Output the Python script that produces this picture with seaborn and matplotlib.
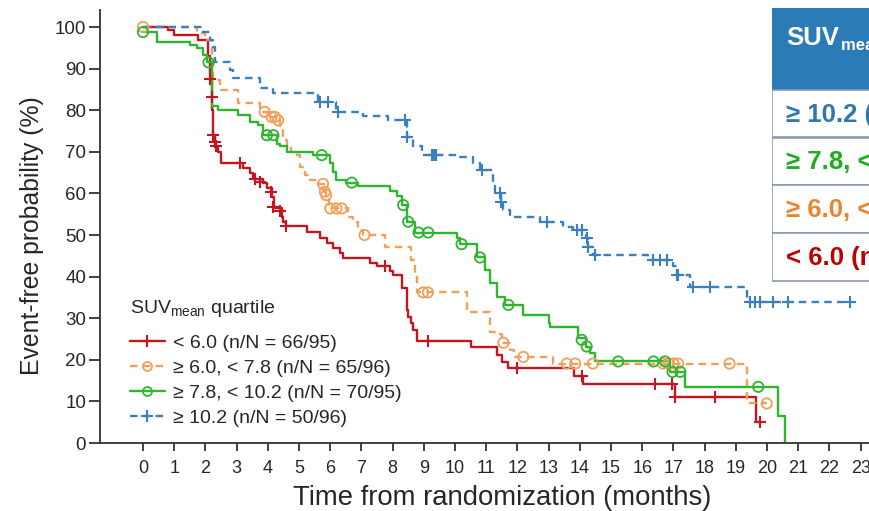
import matplotlib
matplotlib.use("Agg")
import matplotlib.pyplot as plt
import seaborn as sns
import pandas as pd
from matplotlib.lines import Line2D
from matplotlib.patches import Rectangle

# ---- data (months, event-free %) ----
red_t = [0, 0.8, 1.0, 1.75, 2.08, 2.15, 2.2, 2.22, 2.25, 2.3, 2.35, 2.4, 2.5, 3.2, 3.43, 3.53,
         3.85, 3.96, 4.12, 4.2, 4.44, 4.49, 4.58, 5.25, 5.67, 5.89, 6.1, 6.3, 6.4, 7.28, 7.49,
         7.92, 8.0, 8.29, 8.45, 8.5, 8.6, 8.66, 8.77, 10.5, 11.33, 11.5, 11.7, 13.8, 14.1,
         17.05, 19.65, 19.8]
red_s = [100, 99.3, 98.2, 96.8, 93, 88, 84, 80, 74, 72.4, 71.2, 70, 67.2, 66, 64.9, 63.4,
         62.5, 61.3, 59.2, 56.5, 54.4, 53.2, 52.2, 50.8, 49.4, 48.2, 46.9, 45.6, 44.4, 43.3, 42.5,
         41.4, 40.4, 37.3, 32, 30.4, 28.8, 27.2, 24.5, 23.1, 21.2, 19.5, 18.0, 16.1, 14.2,
         11.1, 5.1, 5.1]
red_ct = [2.15, 2.2, 2.25, 2.3, 2.35, 3.1, 3.6, 3.76, 4.09, 4.17, 4.39, 4.58, 7.76, 9.14,
          12.0, 14.06, 16.4, 16.95, 17.05, 18.33, 19.78]
red_cs = [87.4, 83.1, 74, 72.4, 71.4, 67.2, 63.4, 62.7, 60.4, 56.8, 55.7, 52.2, 42.5, 24.5,
          18.0, 16.1, 14.2, 14.2, 11.1, 11.1, 5.1]

orange_t = [0, 1.72, 1.99, 2.2, 2.25, 2.47, 3.05, 3.75, 4.05, 4.3, 4.39, 4.5, 4.6, 4.75, 4.93,
            5.03, 5.2, 5.35, 5.6, 5.8, 5.85, 5.95, 6.57, 6.73, 6.9, 7.05, 7.76, 8.6, 8.72, 8.77,
            10.37, 11.12, 11.33, 11.5, 11.76, 11.9, 13.15, 19.35, 20.0]
orange_s = [100, 98.5, 96.9, 92, 87.3, 84.9, 81.7, 79.6, 78.4, 77.6, 75.2, 72.8, 71.3, 70, 69.2,
            66.4, 64.5, 63.2, 62.3, 60.4, 59.6, 56.4, 54.4, 53.2, 51.2, 50, 47.2, 44, 40.9, 36.2,
            31.4, 26.8, 26.3, 24.1, 22.4, 20.7, 19.1, 9.5, 9.5]
orange_ct = [0, 3.9, 4.12, 4.23, 4.33, 5.77, 5.83, 5.87, 6.0, 6.2, 6.37, 7.1, 8.98, 9.13, 11.55,
             12.19, 13.58, 13.85, 14.42, 16.67, 16.85, 17.0, 17.15, 18.8, 19.99]
orange_cs = [100, 79.6, 78.4, 78.4, 77.6, 62.3, 60.4, 59.6, 56.4, 56.4, 56.4, 50, 36.2, 36.2, 24.1,
             20.7, 19.1, 19.1, 19.1, 19.1, 19.1, 19.1, 19.1, 19.1, 9.5]

green_t = [0, 0.44, 1.5, 1.72, 1.93, 2.05, 2.2, 2.41, 3.05, 3.43, 3.7, 3.85, 4.28, 4.39, 4.6,
           5.45, 6.0, 6.1, 6.2, 6.5, 6.9, 7.92, 8.13, 8.3, 8.45, 8.72, 10.05, 10.15, 10.7, 10.96,
           11.12, 11.33, 11.6, 12.19, 13.0, 13.04, 13.95, 14.2, 14.33, 14.49, 16.89, 17.37, 20.36,
           20.58]
green_s = [98.8, 96.5, 95.7, 94.9, 93.3, 91.7, 80.9, 80, 78.8, 77.2, 76.4, 74, 72, 71.3, 70,
           69.2, 67.2, 65.2, 63.2, 62.6, 61.7, 60.5, 59.3, 57.2, 53.2, 50.6, 49.2, 47.8, 44.6, 41.6,
           38.4, 35.2, 33.2, 30.8, 28.8, 28, 25.2, 23.2, 21.6, 19.6, 17.1, 13.5, 6.5,
           0]
green_ct = [0, 2.1, 3.97, 4.18, 5.73, 6.69, 8.34, 8.5, 8.83, 9.14, 10.21, 10.8, 11.71, 14.06,
            14.22, 15.23, 16.36, 16.73, 16.97, 17.22, 19.72]
green_cs = [98.8, 91.5, 74, 74, 69.2, 62.6, 57.2, 53.2, 50.6, 50.6, 47.8, 44.6, 33.2, 24.8,
            23.2, 19.6, 19.6, 19.6, 17.1, 17.1, 13.5]

blue_t = [0, 1.93, 2.15, 2.25, 2.3, 2.79, 2.89, 3.75, 4.18, 5.62, 6.2, 7.06, 7.86, 8.45, 8.66,
          8.93, 10.05, 10.58, 10.8, 11.23, 11.28, 11.46, 11.55, 11.76, 12.72, 13.47, 13.79, 14.2,
          14.27, 14.43, 16.2, 17.0, 17.1, 17.53, 19.35, 22.66]
blue_s = [100, 98.9, 96.9, 95.3, 91.7, 89.7, 87.7, 85.3, 84.1, 82.1, 79.6, 78.5, 77.6, 73.6, 71.3,
          69.2, 68.8, 67.2, 65.6, 61.7, 60.1, 58, 56, 54.4, 53.2, 52, 51.2, 49.2,
          47.2, 45.2, 44.1, 42.5, 40.4, 37.6, 34.0, 34.0]
blue_ct = [5.67, 5.94, 6.25, 8.4, 8.47, 9.25, 9.32, 9.4, 10.85, 11.44, 11.47, 12.94, 13.9, 14.06,
           14.22, 14.27, 14.5, 16.36, 16.57, 16.78, 17.1, 17.15, 17.64, 18.17, 19.45, 19.62, 19.78,
           20.2, 20.68, 22.66]
blue_cs = [82.1, 82.1, 79.6, 77.6, 73.6, 69.2, 69.2, 69.2, 65.6, 60.1, 58, 53.2, 51.2, 51.2,
           49.2, 47.2, 45.2, 44.1, 44.1, 44.1, 40.4, 40.4, 37.6, 37.6, 34.0, 34.0, 34.0,
           34.0, 34.0, 34.0]

labels = ["< 6.0 (n/N = 66/95)", "\u2265 6.0, < 7.8 (n/N = 65/96)",
          "\u2265 7.8, < 10.2 (n/N = 70/95)", "\u2265 10.2 (n/N = 50/96)"]
table_rows = ["\u2265 10.2 (n/N = 50/96)", "\u2265 7.8, < 10.2 (n/N = 70/95)",
              "\u2265 6.0, < 7.8 (n/N = 65/96)", "< 6.0 (n/N = 66/95)"]

colors = ["#c3161e", "#f0a05a", "#2fb52f", "#3b7fbf"]
text_colors = ["#2f76b3", "#1fae1f", "#e9852f", "#c00000"]

series = [
    (red_t, red_s, red_ct, red_cs, "-", "+"),
    (orange_t, orange_s, orange_ct, orange_cs, (0, (3.2, 2.2)), "o"),
    (green_t, green_s, green_ct, green_cs, "-", "o"),
    (blue_t, blue_s, blue_ct, blue_cs, (0, (3.2, 2.2)), "+"),
]

sns.set_theme(style="ticks")
plt.rcParams["font.family"] = ["Liberation Sans", "DejaVu Sans"]

fig = plt.figure(figsize=(8.7, 5.11), dpi=100)
ax = fig.add_axes([100 / 870, 68 / 511, 770 / 870, 433 / 511])

for (t, s, ct, cs, ls, mk), col in zip(series, colors):
    df = pd.DataFrame({"t": t, "s": s})
    sns.lineplot(data=df, x="t", y="s", ax=ax, color=col, linestyle=ls, linewidth=1.7,
                 drawstyle="steps-post", estimator=None, sort=False)
    cdf = pd.DataFrame({"t": ct, "s": cs})
    if mk == "o":
        sns.scatterplot(data=cdf, x="t", y="s", ax=ax, marker="o", s=55, facecolor="none",
                        edgecolor=col, linewidth=1.3, zorder=3)
    else:
        sns.scatterplot(data=cdf, x="t", y="s", ax=ax, marker="+", s=80, color=col,
                        linewidth=1.5, zorder=3)

ax.set_xlim(-1.378, 23.3)
ax.set_ylim(0, 104.1)
ax.set_xticks(range(0, 24))
ax.set_yticks(range(0, 101, 10))
ax.set_xlabel("Time from randomization (months)", fontsize=19.8)
ax.set_ylabel("Event-free probability (%)", fontsize=17.8)
ax.xaxis.set_label_coords(0.522, -0.097)
ax.yaxis.set_label_coords(-0.073, 0.48)
for sp in ["top", "right"]:
    ax.spines[sp].set_visible(False)
for sp in ["left", "bottom"]:
    ax.spines[sp].set_color("#333333")
    ax.spines[sp].set_linewidth(1.3)
ax.tick_params(axis="x", length=6, width=1.3, color="#333333", labelsize=13, pad=6)
ax.tick_params(axis="y", length=8, width=1.3, color="#333333", labelsize=13.5, pad=2)

handles = []
for (t, s, ct, cs, ls, mk), col in zip(series, colors):
    if mk == "o":
        h = Line2D([], [], color=col, linestyle=ls, linewidth=1.7, marker="o",
                   markerfacecolor="none", markeredgecolor=col, markersize=6.5, markeredgewidth=1.3)
    else:
        h = Line2D([], [], color=col, linestyle=ls, linewidth=1.7, marker="+",
                   markersize=9, markeredgewidth=1.5)
    handles.append(h)
leg = ax.legend(handles, labels, title="SUV$_{\\mathregular{mean}}$ quartile", loc="upper left",
                bbox_to_anchor=(0.026, 0.358), frameon=False, fontsize=14, title_fontsize=14,
                handlelength=1.8, handletextpad=0.45, labelspacing=0.38, borderpad=0,
                numpoints=1, alignment="left")
leg._legend_box.sep = 11

# table on the right (cut off by the figure edge, as in the reference)
tab = fig.add_axes([772 / 870, (511 - 282) / 511, 300 / 870, 274 / 511])
tab.set_xlim(0, 300)
tab.set_ylim(282, 8)
tab.axis("off")
tab.add_patch(Rectangle((0, 8), 300, 82, facecolor="#2b7bb6", edgecolor="#2b7bb6", lw=0))
edges = [90, 137.5, 185, 233, 281]
for i in range(4):
    tab.add_patch(Rectangle((0, edges[i]), 300, edges[i + 1] - edges[i], facecolor="white",
                            edgecolor="#8a9bb0", lw=1.2))
    tab.text(14, (edges[i] + edges[i + 1]) / 2 + 1, table_rows[i], color=text_colors[i],
             fontsize=18.5, fontweight="bold", va="center", ha="left")
tab.text(14, 45, "SUV", color="white", fontsize=18.5, fontweight="bold", va="baseline")
tab.text(69, 50, "mean quartile", color="white", fontsize=12, fontweight="bold", va="baseline")

fig.savefig("out.png", dpi=100)
